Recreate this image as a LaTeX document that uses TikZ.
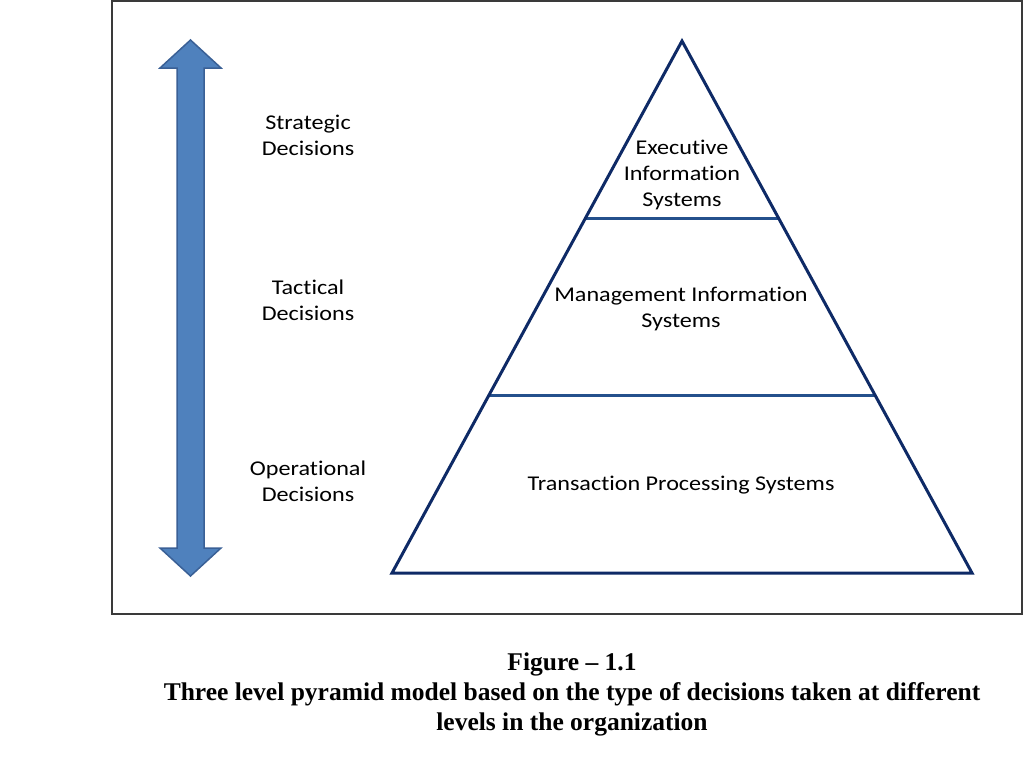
\documentclass[tikz,border=0pt]{standalone}
\usepackage{fontspec}
\setmainfont{Carlito}[FakeStretch=1.15, Ligatures=CommonOff]
\newfontfamily\capfont{Liberation Serif}
\usetikzlibrary{calc}
\definecolor{arrowfill}{HTML}{4F81BD}
\definecolor{arrowedge}{HTML}{3A6096}
\definecolor{triedge}{HTML}{0E2A66}
\definecolor{divline}{HTML}{24508C}
\definecolor{framecol}{HTML}{3A3A3A}
\tikzset{
 lbl/.style={align=center, font=\fontsize{21}{26}\selectfont, inner sep=0pt},
 captext/.style={align=center, font=\capfont\bfseries\fontsize{25.5}{30}\selectfont, inner sep=0pt},
 tri/.style={draw=triedge, line width=3pt, line join=miter},
 divl/.style={draw=divline, line width=3pt},
 dblarrow/.style={fill=arrowfill, draw=arrowedge, line width=1.5pt, line join=miter},
 framebox/.style={draw=framecol, line width=1.5pt}
}
\begin{document}
\begin{tikzpicture}[x=1pt,y=-1pt]
\useasboundingbox (0,0) rectangle (1024,768);
\draw[framebox] (112,1) rectangle (1022,614);
% double arrow
\draw[dblarrow] (190.5,40) -- (221,68) -- (204,68) -- (204,548) -- (221,548) -- (190.5,576)
  -- (160,548) -- (177,548) -- (177,68) -- (160,68) -- cycle;
% pyramid
\coordinate (apex) at (682,41);
\coordinate (bl) at (392,573);
\coordinate (br) at (972,573);
\coordinate (l1) at ($(apex)!1/3!(bl)$);
\coordinate (r1) at ($(apex)!1/3!(br)$);
\coordinate (l2) at ($(apex)!2/3!(bl)$);
\coordinate (r2) at ($(apex)!2/3!(br)$);
\draw[divl] (l1) -- (r1);
\draw[divl] (l2) -- (r2);
\draw[tri] (apex) -- (bl) -- (br) -- cycle;
% labels
\node[lbl] (strat) at (308,135) {Strategic\\Decisions};
\node[lbl] (tact) at (308,300) {Tactical\\Decisions};
\node[lbl] (oper) at (308,481) {Operational\\Decisions};
\node[lbl] (eis) at (682,175) {Executive\\Information\\Systems};
\node[lbl] (mis) at (681,309) {Management Information\\Systems};
\node[lbl] (tps) at (681,485) {Transaction Processing Systems};
\node[captext] (caption) at (572,694) {Figure – 1.1\\Three level pyramid model based on the type of decisions taken at different\\levels in the organization};
\end{tikzpicture}
\end{document}
